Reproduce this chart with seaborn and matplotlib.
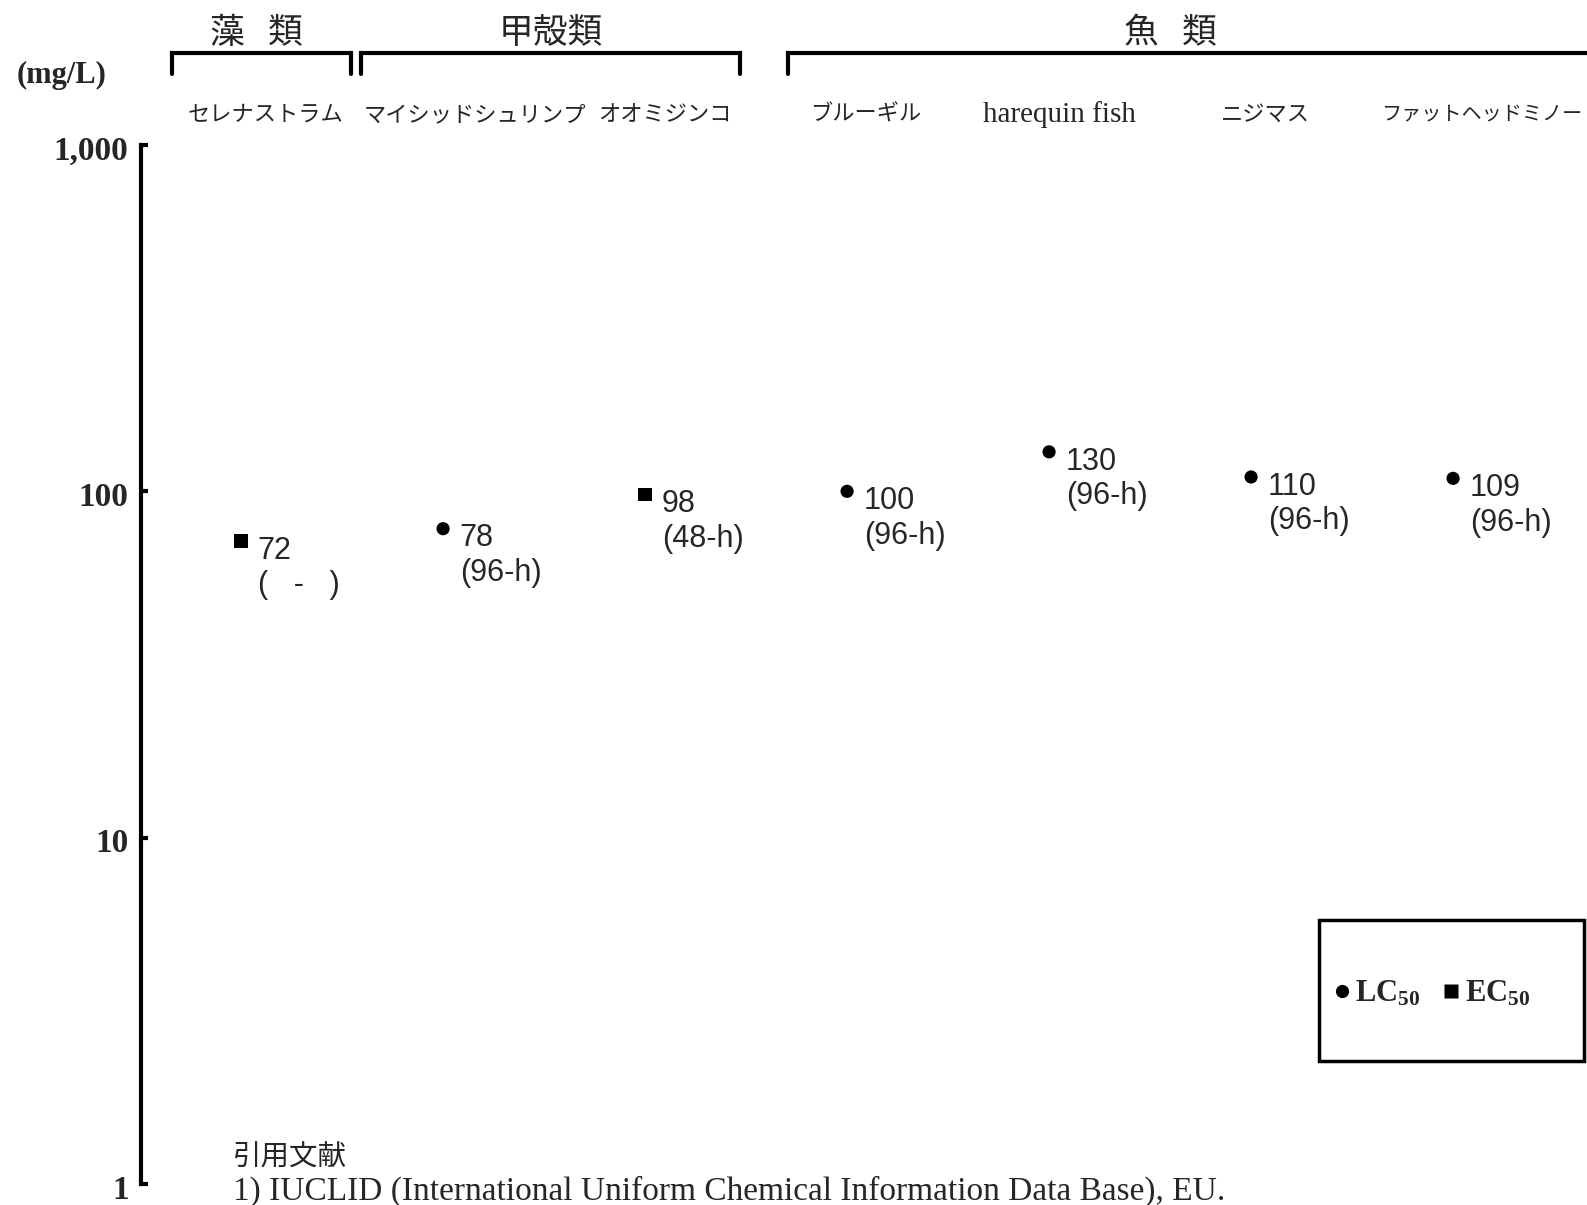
import matplotlib
matplotlib.use("Agg")
import matplotlib.pyplot as plt
import matplotlib.transforms as mtransforms
from matplotlib.patches import Rectangle
import seaborn as sns
import pandas as pd

# data
species = ['セレナストラム', 'マイシッドシュリンプ', 'オオミジンコ', 'ブルーギル',
           'harequin fish', 'ニジマス', 'ファットヘッドミノー']
values = [72, 78, 98, 100, 130, 110, 109]
endpoint = ['EC$_{50}$', 'LC$_{50}$', 'EC$_{50}$', 'LC$_{50}$', 'LC$_{50}$', 'LC$_{50}$', 'LC$_{50}$']
durations = ['(   -   )', '(96-h)', '(48-h)', '(96-h)', '(96-h)', '(96-h)', '(96-h)']
groups = ['藻   類', '甲殻類', '魚   類']
yticks = [1, 10, 100, 1000]
yticklabels = ['1', '10', '100', '1,000']

# layout (category units)
group_span = [(-0.34, 0.545), (0.594, 2.47), (2.71, 6.70)]
group_center = [0.0755, 1.532, 4.60]
label_shift = [0.12, 0.16, 0.10, 0.09, 0.05, 0.07, 0.14]
label_size = [16, 16, 16, 16, 21, 16, 14.5]

df = pd.DataFrame({'x': range(len(species)), 'value': values, 'type': endpoint})

sns.set_theme(style='white')
jp = ['Noto Sans CJK JP', 'DejaVu Sans']
plt.rcParams['font.family'] = jp
plt.rcParams['mathtext.fontset'] = 'custom'
plt.rcParams['mathtext.rm'] = 'Liberation Serif:bold'
plt.rcParams['mathtext.it'] = 'Liberation Serif:bold'
plt.rcParams['mathtext.bf'] = 'Liberation Serif:bold'

fig = plt.figure(figsize=(15.87, 12.05), dpi=100)
ax = fig.add_axes([0.0889, 0.0174, 0.9111, 0.8623])

sns.scatterplot(data=df, x='x', y='value', style='type',
                markers={'LC$_{50}$': 'o', 'EC$_{50}$': 's'},
                style_order=['LC$_{50}$', 'EC$_{50}$'],
                size='type', sizes={'LC$_{50}$': 90, 'EC$_{50}$': 95},
                size_order=['LC$_{50}$', 'EC$_{50}$'],
                color='black', edgecolor='none', ax=ax, legend='full')

ax.set_yscale('log')
ax.set_ylim(1, 1000)
ax.set_xlim(-0.495, 6.663)
ax.set_yticks(yticks)
ax.set_yticklabels(yticklabels, fontfamily='Liberation Serif', fontweight='bold', fontsize=24)
ax.minorticks_off()
ax.set_xticks([])
ax.set_xlabel('')
ax.set_ylabel('')
for s in ['top', 'right', 'bottom']:
    ax.spines[s].set_visible(False)
ax.spines['left'].set_linewidth(3)
ax.spines['left'].set_color('black')
ax.tick_params(axis='y', left=True, direction='in', length=5, width=3, color='black', pad=9)
shift = mtransforms.ScaledTranslation(0, -2 / 72, fig.dpi_scale_trans)
for t in ax.get_yticklabels():
    t.set_transform(t.get_transform() + shift)

# value labels
for i, (v, d) in enumerate(zip(values, durations)):
    ax.annotate(f'{v}\n{d}', (i, v), xytext=(12, -19.5), textcoords='offset points',
                ha='left', va='center', fontsize=22, fontfamily='Liberation Sans',
                linespacing=1.2)

# group brackets and names above the plot
trans = mtransforms.blended_transform_factory(ax.transData, fig.transFigure)
for g, (a, b), c in zip(groups, group_span, group_center):
    ax.plot([a, a, b, b], [0.9386, 0.956, 0.956, 0.9386], color='black', lw=3,
            transform=trans, clip_on=False, solid_joinstyle='miter')
    ax.text(c, 0.972, g, transform=trans, ha='center', va='center', fontsize=25)

for i, sp in enumerate(species):
    fam = ['Liberation Serif'] if sp.isascii() else jp
    ax.text(i + label_shift[i], 0.905, sp, transform=trans, ha='center', va='center',
            fontsize=label_size[i], family=fam)

fig.text(0.039, 0.937, '(mg/L)', ha='center', va='center', fontsize=22,
         fontfamily='Liberation Serif', fontweight='bold')

# legend in a hand-drawn box
fig.add_artist(Rectangle((0.8311, 0.1195), 0.1670, 0.117, transform=fig.transFigure,
                         fill=False, edgecolor='black', lw=2.5))
h, l = ax.get_legend_handles_labels()
order = [l.index('LC$_{50}$'), l.index('EC$_{50}$')]
leg = ax.legend([h[k] for k in order], [l[k] for k in order], loc='center left',
                bbox_to_anchor=(0.8405, 0.175), bbox_transform=fig.transFigure, ncol=2,
                frameon=False, borderpad=0, handlelength=0.5, handletextpad=0.2,
                columnspacing=0.75, borderaxespad=0,
                prop={'family': 'Liberation Serif', 'weight': 'bold', 'size': 22})

# reference note
fig.text(0.147, 0.039, '引用文献', ha='left', va='center', fontsize=20.5)
fig.text(0.147, 0.011, '1) IUCLID (International Uniform Chemical Information Data Base), EU.',
         ha='left', va='center', fontsize=24, fontfamily='Liberation Serif')

fig.savefig('out.png', dpi=100, facecolor='white')
